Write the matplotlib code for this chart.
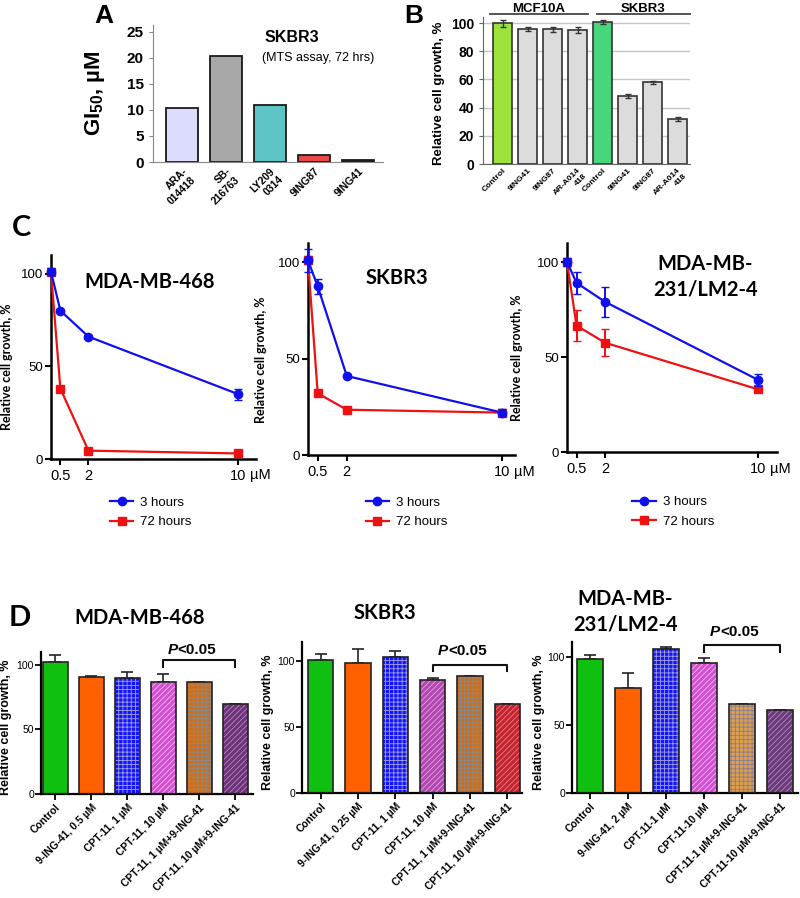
import numpy as np
import matplotlib
matplotlib.use('Agg')
import matplotlib.pyplot as plt
from matplotlib import transforms
from matplotlib.lines import Line2D

W, H = 800, 898
ARIAL = ['Liberation Sans', 'DejaVu Sans']
CALIBRI = ['Lato', 'DejaVu Sans']
NARROW = ['Liberation Sans Narrow', 'Liberation Sans', 'DejaVu Sans']

plt.rcParams['font.family'] = ARIAL
plt.rcParams['hatch.linewidth'] = 0.6
plt.rcParams['mathtext.fontset'] = 'custom'
plt.rcParams['mathtext.bf'] = 'Liberation Sans:bold'
plt.rcParams['mathtext.rm'] = 'Liberation Sans:bold'

# ---- panel A: GI50 in SKBR3
a_drugs = ['ARA-\n014418', 'SB-\n216763', 'LY209\n0314', '9ING87', '9ING41']
a_gi50 = [10.4, 20.3, 10.9, 1.3, 0.45]
a_colors = ['#dcdcfc', '#a8a8a8', '#5cc4c4', '#e84848', '#202020']

# ---- panel B: relative growth
b_labels = ['Control', '9ING41', '9ING87', 'AR-A014\n418'] * 2
b_vals = [100, 96, 95.5, 95, 100.5, 48.5, 58, 32]
b_err = [2.5, 1.5, 2, 2, 1.5, 1.5, 1.2, 1.5]
b_colors = ['#9de33c', '#dcdcdc', '#dcdcdc', '#dcdcdc',
            '#48d67c', '#dcdcdc', '#dcdcdc', '#dcdcdc']
b_groups = ['MCF10A', 'SKBR3']

# ---- panel C: dose response
c_dose = [0, 0.5, 2, 10]
c_titles = ['MDA-MB-468', 'SKBR3', 'MDA-MB-\n231/LM2-4']
c_3h = [[101, 80, 66, 35], [101, 87.5, 41, 22], [100, 89, 79, 38]]
c_3h_err = [[2, 1, 1, 3], [6, 4, 1, 2], [2, 6, 8, 3]]
c_72h = [[101, 38, 4.5, 3], [101, 32, 23.5, 22], [100, 66.5, 57.5, 33]]
c_72h_err = [[1, 1, 1, 1], [2, 1, 1, 1], [1, 8, 7, 1]]

# ---- panel D: CPT-11 combos
d_titles = ['MDA-MB-468', 'SKBR3', 'MDA-MB-\n231/LM2-4']
d_labels = [
    ['Control', '9-ING-41, 0.5 µM', 'CPT-11, 1 µM', 'CPT-11, 10 µM',
     'CPT-11, 1 µM+9-ING-41', 'CPT-11, 10 µM+9-ING-41'],
    ['Control', '9-ING-41, 0.25 µM', 'CPT-11, 1 µM', 'CPT-11, 10 µM',
     'CPT-11, 1 µM+9-ING-41', 'CPT-11, 10 µM+9-ING-41'],
    ['Control', '9-ING-41, 2 µM', 'CPT-11-1 µM', 'CPT-11-10 µM',
     'CPT-11-1 µM+9-ING-41', 'CPT-11-10 µM+9-ING-41'],
]
d_vals = [[102, 90.7, 90, 87, 87, 70],
          [100.5, 98, 103, 85, 88.6, 67.5],
          [98.5, 77, 106, 95.6, 65.5, 61]]
d_err = [[6, 1, 4.5, 6, 0, 0],
         [4.5, 11, 4, 2, 0, 0],
         [3, 11, 1.5, 3.5, 0, 0]]
d_colors = [['#10c010', '#ff6000', '#1414ff', '#d050d0', '#c86e1e', '#6e3278'],
            ['#10c010', '#ff6000', '#1414ff', '#b048b0', '#c86e1e', '#c42430'],
            ['#10c010', '#ff6000', '#1414ff', '#d050d0', '#d9a055', '#6a3a7a']]
d_hatch = [None, None, '++++', '//////', '++++', '//////']
d_hatch_col = [['none', 'none', '#a0a0e0', '#f6b8f6', '#8a8a8a', '#b58ac0'],
               ['none', 'none', '#a0a0e0', '#e8a0e8', '#8a8a8a', '#e88080'],
               ['none', 'none', '#a0a0e0', '#f6b8f6', '#8a7a90', '#b58ac0']]
d_ptext = ['P', '<0.05']
d_bracket = [(104, 98, 111.5), (97, 92, 107), (109, 104, 118)]

fig = plt.figure(figsize=(W / 100, H / 100), dpi=100)


def add_px(l, t, r, b):
    return fig.add_axes([l / W, 1 - b / H, (r - l) / W, (b - t) / H])


# ================= A
axA = add_px(153, 25, 383, 162)
xa = np.arange(len(a_gi50))
axA.bar(xa, a_gi50, width=0.73, color=a_colors, edgecolor='#1a1a1a', linewidth=1.3)
axA.set_xlim(-0.66, 4.57)
axA.set_ylim(0, 26.3)
axA.set_yticks(range(0, 26, 5))
axA.set_xticks(xa)
axA.set_xticklabels(a_drugs, rotation=45, ha='right', rotation_mode='anchor',
                    fontsize=7.5, fontweight='bold')
for s in ['top', 'right']:
    axA.spines[s].set_visible(False)
for s in ['left', 'bottom']:
    axA.spines[s].set_color('#888888')
axA.tick_params(axis='y', labelsize=11, length=3, color='#888888')
axA.tick_params(axis='x', length=0, pad=3)
for t in axA.get_yticklabels():
    t.set_fontweight('bold')
axA.set_ylabel(r'$\mathbf{GI_{50}}$, µM', fontsize=16, fontweight='bold')
axA.yaxis.set_label_coords(-0.2, 0.5)
axA.text(0.487, 0.91, 'SKBR3', transform=axA.transAxes, fontsize=11.5,
         fontweight='bold', va='center', ha='left')
axA.text(0.475, 0.76, '(MTS assay, 72 hrs)', transform=axA.transAxes,
         fontsize=9, va='center', ha='left')
fig.text(94 / W, 1 - 16 / H, 'A', fontsize=19, fontweight='bold', va='center')

# ================= B
axB = add_px(483, 17.4, 690, 164)
xb = np.arange(len(b_vals))
axB.set_axisbelow(True)
axB.yaxis.grid(True, color='#c4c4c4', linewidth=1)
axB.bar(xb, b_vals, width=0.76, color=b_colors, edgecolor='#333333', linewidth=1.2,
        yerr=b_err, capsize=2.5, error_kw=dict(ecolor='#333333', elinewidth=1, capthick=1))
axB.set_xlim(-0.78, 7.5)
axB.set_ylim(0, 104)
axB.set_yticks(range(0, 101, 20))
axB.set_xticks(xb)
axB.set_xticklabels(b_labels, rotation=45, ha='right', rotation_mode='anchor',
                    fontsize=6, fontweight='bold')
for s in ['top', 'right']:
    axB.spines[s].set_visible(False)
for s in ['left', 'bottom']:
    axB.spines[s].set_color('#666666')
axB.tick_params(axis='y', labelsize=10, length=3, color='#666666')
axB.tick_params(axis='x', length=0, pad=2)
for t in axB.get_yticklabels():
    t.set_fontweight('bold')
axB.set_ylabel('Relative cell growth, %', fontsize=9.5, fontweight='bold')
axB.yaxis.set_label_coords(-0.185, 0.48)
for (x0, x1), g in zip([(-0.5, 3.42), (3.78, 7.5)], b_groups):
    axB.plot([x0, x1], [106.5, 106.5], color='#444444', lw=1.3, clip_on=False)
    axB.text((x0 + x1) / 2, 107.8, g, ha='center', va='baseline', fontsize=9.5,
             fontweight='bold')
fig.text(404 / W, 1 - 16 / H, 'B', fontsize=19, fontweight='bold', va='center')

# ================= C
c_rects = [(51, 255, 256, 459), (308, 243, 515, 455), (567, 243, 777, 452)]
c_xmax = [10.96, 10.67, 11.0]
c_title_pos = [(0.48, 0.87), (0.43, 0.835), (0.66, 0.84)]
c_ylab_x = [-0.185, -0.2, -0.21]
c_leg_pos = [(0.254, -0.152), (0.246, -0.165), (0.28, -0.18)]
for i in range(3):
    ax = add_px(*c_rects[i])
    ax.errorbar(c_dose, c_72h[i], yerr=c_72h_err[i], color='#ee1111', lw=1.6,
                marker='s', ms=6, capsize=3, elinewidth=1.4, clip_on=False, zorder=3)
    ax.errorbar(c_dose, c_3h[i], yerr=c_3h_err[i], color='#1010ee', lw=1.6,
                marker='o', ms=6, capsize=3, elinewidth=1.4, clip_on=False, zorder=4)
    ax.set_xlim(0, c_xmax[i])
    ax.set_ylim(0, 110)
    ax.set_yticks([0, 50, 100])
    ax.set_xticks([0.5, 2, 10])
    ax.set_xticklabels(['0.5', '2', '10'], family=NARROW, fontsize=10.5)
    for t in ax.get_yticklabels():
        t.set_family(NARROW)
    for s in ['top', 'right']:
        ax.spines[s].set_visible(False)
    for s in ['left', 'bottom']:
        ax.spines[s].set_linewidth(1.8)
    ax.tick_params(axis='both', width=1.5, length=4.5)
    ax.tick_params(axis='y', labelsize=9.5, pad=1)
    ax.tick_params(axis='x', pad=3)
    trans = transforms.offset_copy(
        transforms.blended_transform_factory(ax.transData, ax.transAxes),
        fig=fig, x=12, y=0, units='dots')
    ax.text(10, -0.08, 'µM', transform=trans, family=NARROW, fontsize=10.5,
            ha='left', va='center')
    ax.text(*c_title_pos[i], c_titles[i], transform=ax.transAxes, family=CALIBRI,
            fontsize=14.5, fontweight='bold', ha='center', va='center',
            linespacing=1.35)
    ax.set_ylabel('Relative cell growth, %', family=CALIBRI, fontsize=9,
                  fontweight='bold')
    ax.yaxis.set_label_coords(c_ylab_x[i], 0.45)
    handles = [Line2D([], [], color='#1010ee', marker='o', ms=6, lw=1.6),
               Line2D([], [], color='#ee1111', marker='s', ms=6, lw=1.6)]
    ax.legend(handles, ['3 hours', '72 hours'], loc='upper left',
              bbox_to_anchor=c_leg_pos[i], frameon=False, borderpad=0,
              handlelength=1.8, handletextpad=0.5, labelspacing=0.55,
              prop=dict(family=NARROW, size=9.5))
fig.text(12 / W, 1 - 228 / H, 'C', family=CALIBRI, fontsize=21, fontweight='bold',
         va='center')

# ================= D
d_rects = [(41, 652, 253, 794), (302, 642, 522, 793), (572, 642, 798, 793)]
d_xlim = [(-0.4, 5.49), (-0.5, 5.39), (-0.47, 5.47)]
d_ylim = [110, 114, 111]
d_width = [0.7, 0.68, 0.68]
d_title_pos = [(0.467, 1.24), (0.377, 1.19), (0.235, 1.2)]
d_ylab_x = [-0.135, -0.125, -0.12]
for i in range(3):
    ax = add_px(*d_rects[i])
    xd = np.arange(6)
    for j in range(6):
        ax.bar(xd[j], d_vals[i][j], width=d_width[i], color=d_colors[i][j],
               hatch=d_hatch[j], edgecolor=d_hatch_col[i][j], linewidth=0, zorder=2)
    ax.bar(xd, d_vals[i], width=d_width[i], fill=False, edgecolor='#222222',
           linewidth=1.2, zorder=3)
    ax.errorbar(xd, d_vals[i], yerr=[np.zeros(6), d_err[i]], fmt='none',
                ecolor='#222222', elinewidth=1.2, capsize=4, capthick=1.2, zorder=1)
    ax.set_xlim(*d_xlim[i])
    ax.set_ylim(0, d_ylim[i])
    ax.set_yticks([0, 50, 100])
    ax.set_xticks(xd)
    ax.set_xticklabels(d_labels[i], rotation=45, ha='right', rotation_mode='anchor',
                       fontsize=7.5, fontweight='bold')
    for s in ['top', 'right']:
        ax.spines[s].set_visible(False)
    for s in ['left', 'bottom']:
        ax.spines[s].set_linewidth(1.6)
    ax.tick_params(axis='both', width=1.3, length=4)
    ax.tick_params(axis='y', labelsize=7.5, pad=1)
    ax.tick_params(axis='x', pad=2)
    ax.set_ylabel('Relative cell growth, %', fontsize=9, fontweight='bold')
    ax.yaxis.set_label_coords(d_ylab_x[i], 0.47)
    ax.text(*d_title_pos[i], d_titles[i], transform=ax.transAxes, family=CALIBRI,
            fontsize=14.5, fontweight='bold', ha='center', va='center',
            linespacing=1.3)
    top, low, ty = d_bracket[i]
    ax.plot([3, 3, 5, 5], [low, top, top, low], color='#111111', lw=1.5,
            clip_on=False, zorder=5)
    tP = transforms.offset_copy(ax.transData, fig=fig, x=-22, y=0, units='dots')
    ax.text(4, ty, d_ptext[0], transform=tP, fontsize=11, fontweight='bold',
            style='italic', ha='right', va='center')
    ax.text(4, ty, d_ptext[1], transform=tP, fontsize=11, fontweight='bold',
            ha='left', va='center')
fig.text(9 / W, 1 - 618 / H, 'D', family=CALIBRI, fontsize=21, fontweight='bold',
         va='center')

fig.savefig('out.png', dpi=100)
